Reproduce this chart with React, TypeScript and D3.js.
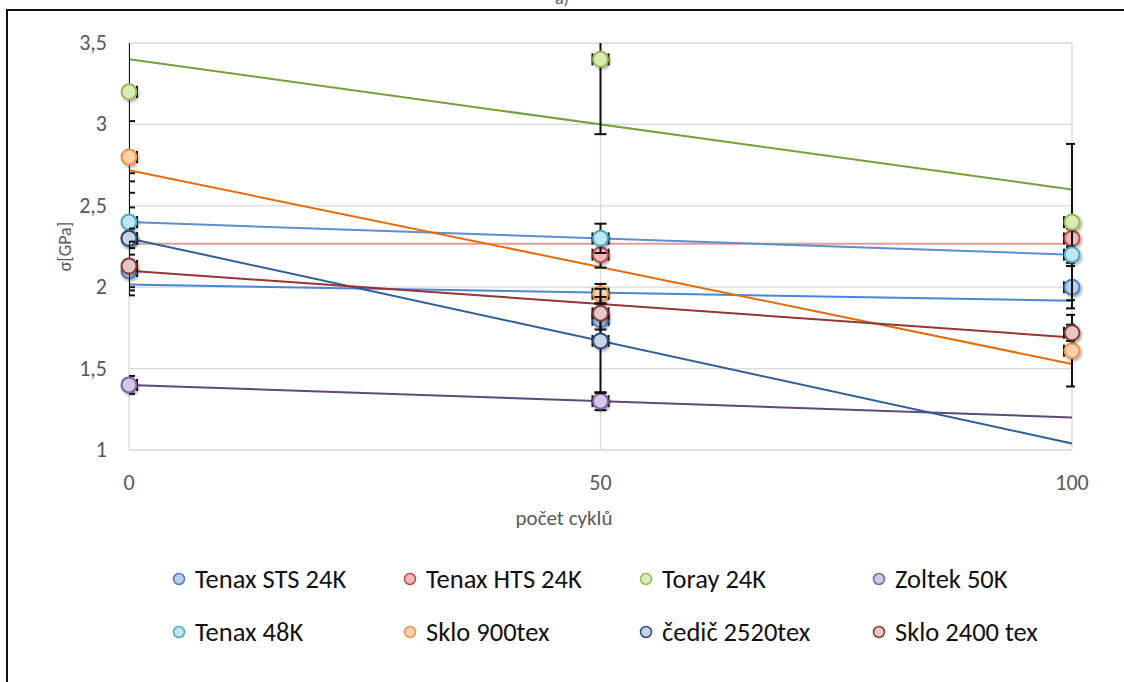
import { useEffect, useRef } from 'react'
import * as d3 from 'd3'

// x values (number of cycles)
const cycles = [0, 50, 100]
const xTicks = [0, 50, 100]
const yTicks = [1, 1.5, 2, 2.5, 3, 3.5]

const seriesNames = [
  'Tenax STS 24K',
  'Tenax HTS 24K',
  'Toray 24K',
  'Zoltek 50K',
  'Tenax 48K',
  'Sklo 900tex',
  'čedič 2520tex',
  'Sklo 2400 tex',
]

// strength values in GPa (null = not measured)
const stsValues = [2.1, 1.8, 2.0]
const htsValues = [2.3, 2.2, 2.3]
const torayValues = [3.2, 3.4, 2.4]
const zoltekValues = [1.4, 1.3, null]
const tenax48Values = [2.4, 2.3, 2.2]
const sklo900Values = [2.8, 1.96, 1.61]
const cedicValues = [2.3, 1.67, null]
const sklo2400Values = [2.13, 1.84, 1.72]

// y error amounts
const stsErr = [0.1, 0.1, 0.13]
const htsErr = [0.35, 0.08, 0.06]
const torayErr = [0.5, 0.46, 0.48]
const zoltekErr = [0.055, 0.055, 0]
const tenax48Err = [0.09, 0.09, 0.05]
const sklo900Err = [0.22, 0.06, 0.22]
const cedicErr = [0.06, 0.32, 0]
const sklo2400Err = [0.15, 0.1, 0.05]

const xErr = 0.85

const allValues = [stsValues, htsValues, torayValues, zoltekValues, tenax48Values, sklo900Values, cedicValues, sklo2400Values]
const allErrs = [stsErr, htsErr, torayErr, zoltekErr, tenax48Err, sklo900Err, cedicErr, sklo2400Err]

const markerStroke = ['#4a7ebb', '#be4b48', '#98b954', '#7d60a0', '#46aac5', '#f69240', '#2c4d75', '#8a3533']
const markerFill = ['#b9cdf0', '#f3b9b8', '#d9ebb6', '#d3c6e6', '#c0e6f1', '#fcd1ae', '#c8d4e4', '#e3c7c6']
const trendColors = ['#4a86d6', '#e59a98', '#77a03c', '#5f497a', '#5b8fd0', '#e46c0a', '#2f5e96', '#943634']

export default function App() {
  const svgRef = useRef<SVGSVGElement>(null)

  useEffect(() => {
    document.body.style.margin = '0'
    if (!svgRef.current) return
    const svg = d3.select(svgRef.current)
    svg.selectAll('*').remove()

    const font = "Carlito, Calibri, Lato, 'Liberation Sans', sans-serif"
    const left = 129
    const right = 1072
    const top = 43
    const bottom = 450

    const x = d3.scaleLinear().domain([0, 100]).range([left, right])
    const y = d3.scaleLinear().domain([1, 3.5]).range([bottom, top])

    const defs = svg.append('defs')
    const shadow = defs.append('filter').attr('id', 'shadow')
      .attr('x', '-50%').attr('y', '-50%').attr('width', '200%').attr('height', '200%')
    shadow.append('feDropShadow')
      .attr('dx', 1.5).attr('dy', 2).attr('stdDeviation', 1.6)
      .attr('flood-color', '#000').attr('flood-opacity', 0.35)
    defs.append('clipPath').attr('id', 'plotclip')
      .append('rect').attr('x', left).attr('y', top).attr('width', right - left + 3).attr('height', bottom - top)

    // outer frame
    svg.append('rect')
      .attr('x', 7).attr('y', 10).attr('width', 1130).attr('height', 700)
      .attr('fill', 'white').attr('stroke', '#111').attr('stroke-width', 2)

    // title, cut off at the top edge as in the source
    svg.append('text')
      .attr('x', 562).attr('y', 4).attr('text-anchor', 'middle')
      .attr('font-family', font).attr('font-size', 18).attr('fill', '#595959')
      .text('a)')

    // grid
    const grid = svg.append('g')
    grid.selectAll('line.h').data(yTicks).enter().append('line')
      .attr('x1', left).attr('x2', right).attr('y1', d => y(d)).attr('y2', d => y(d))
      .attr('stroke', '#d9d9d9').attr('stroke-width', 1.3)
    grid.selectAll('line.v').data(xTicks).enter().append('line')
      .attr('y1', top).attr('y2', bottom).attr('x1', d => x(d)).attr('x2', d => x(d))
      .attr('stroke', '#d9d9d9').attr('stroke-width', 1.3)

    // tick labels
    svg.append('g').selectAll('text').data(yTicks).enter().append('text')
      .attr('x', left - 22).attr('y', d => y(d) + 7).attr('text-anchor', 'end')
      .attr('font-family', font).attr('font-size', 22).attr('fill', '#595959')
      .text(d => d3.format('')(d).replace('.', ','))
    svg.append('g').selectAll('text').data(xTicks).enter().append('text')
      .attr('x', d => x(d)).attr('y', bottom + 40).attr('text-anchor', 'middle')
      .attr('font-family', font).attr('font-size', 22).attr('fill', '#595959')
      .text(d => String(d))

    // axis titles
    svg.append('text')
      .attr('x', 564).attr('y', 525).attr('text-anchor', 'middle')
      .attr('font-family', font).attr('font-size', 21).attr('fill', '#595959')
      .text('počet cyklů')
    svg.append('text')
      .attr('transform', `translate(71,${(top + bottom) / 2}) rotate(-90)`)
      .attr('text-anchor', 'middle')
      .attr('font-family', font).attr('font-size', 18).attr('fill', '#595959')
      .text('σ[GPa]')

    const plot = svg.append('g').attr('clip-path', 'url(#plotclip)')

    // linear trend lines (least squares over available points)
    allValues.forEach((vals, i) => {
      const pts = cycles.map((c, j) => [c, vals[j]] as [number, number | null])
        .filter(p => p[1] != null) as [number, number][]
      const mx = d3.mean(pts, p => p[0])!
      const my = d3.mean(pts, p => p[1])!
      const sxy = d3.sum(pts, p => (p[0] - mx) * (p[1] - my))
      const sxx = d3.sum(pts, p => (p[0] - mx) ** 2)
      const slope = sxy / sxx
      const icpt = my - slope * mx
      const line = d3.line<number>().x(d => x(d)).y(d => y(icpt + slope * d))
      plot.append('path')
        .attr('d', line([0, 100]))
        .attr('fill', 'none').attr('stroke', trendColors[i]).attr('stroke-width', 2)
    })

    // error bars + markers, in series order
    allValues.forEach((vals, i) => {
      const g = svg.append('g')
      const pts = cycles.map((c, j) => ({ c, v: vals[j], e: allErrs[i][j] })).filter(p => p.v != null) as { c: number, v: number, e: number }[]
      const eb = g.append('g').attr('clip-path', 'url(#plotclip)').attr('stroke', '#111').attr('stroke-width', 2)
      pts.forEach(p => {
        if (p.e > 0) {
          eb.append('line').attr('x1', x(p.c)).attr('x2', x(p.c)).attr('y1', y(p.v - p.e)).attr('y2', y(p.v + p.e))
          ;[p.v - p.e, p.v + p.e].forEach(v => {
            eb.append('line').attr('x1', x(p.c) - 6).attr('x2', x(p.c) + 6).attr('y1', y(v)).attr('y2', y(v))
          })
        }
        eb.append('line').attr('x1', x(p.c - xErr)).attr('x2', x(p.c + xErr)).attr('y1', y(p.v)).attr('y2', y(p.v))
        ;[p.c - xErr, p.c + xErr].forEach(c => {
          eb.append('line').attr('x1', x(c)).attr('x2', x(c)).attr('y1', y(p.v) - 6).attr('y2', y(p.v) + 6)
        })
      })
      g.selectAll('circle').data(pts).enter().append('circle')
        .attr('cx', d => x(d.c)).attr('cy', d => y(d.v)).attr('r', 7.5)
        .attr('fill', markerFill[i]).attr('stroke', markerStroke[i]).attr('stroke-width', 2)
        .attr('filter', 'url(#shadow)')
    })

    // legend
    const legX = [179, 410, 646, 879]
    const legY = [579, 632]
    const leg = svg.append('g')
    seriesNames.forEach((name, i) => {
      const lx = legX[i % 4]
      const ly = legY[Math.floor(i / 4)]
      leg.append('circle').attr('cx', lx).attr('cy', ly).attr('r', 5.5)
        .attr('fill', markerFill[i]).attr('stroke', markerStroke[i]).attr('stroke-width', 1.5)
      leg.append('text').attr('x', lx + 16).attr('y', ly + 9)
        .attr('font-family', font).attr('font-size', 26.5).attr('fill', '#111')
        .text(name)
    })
  }, [])

  return <svg ref={svgRef} width={1124} height={682} style={{ display: 'block' }} />
}
